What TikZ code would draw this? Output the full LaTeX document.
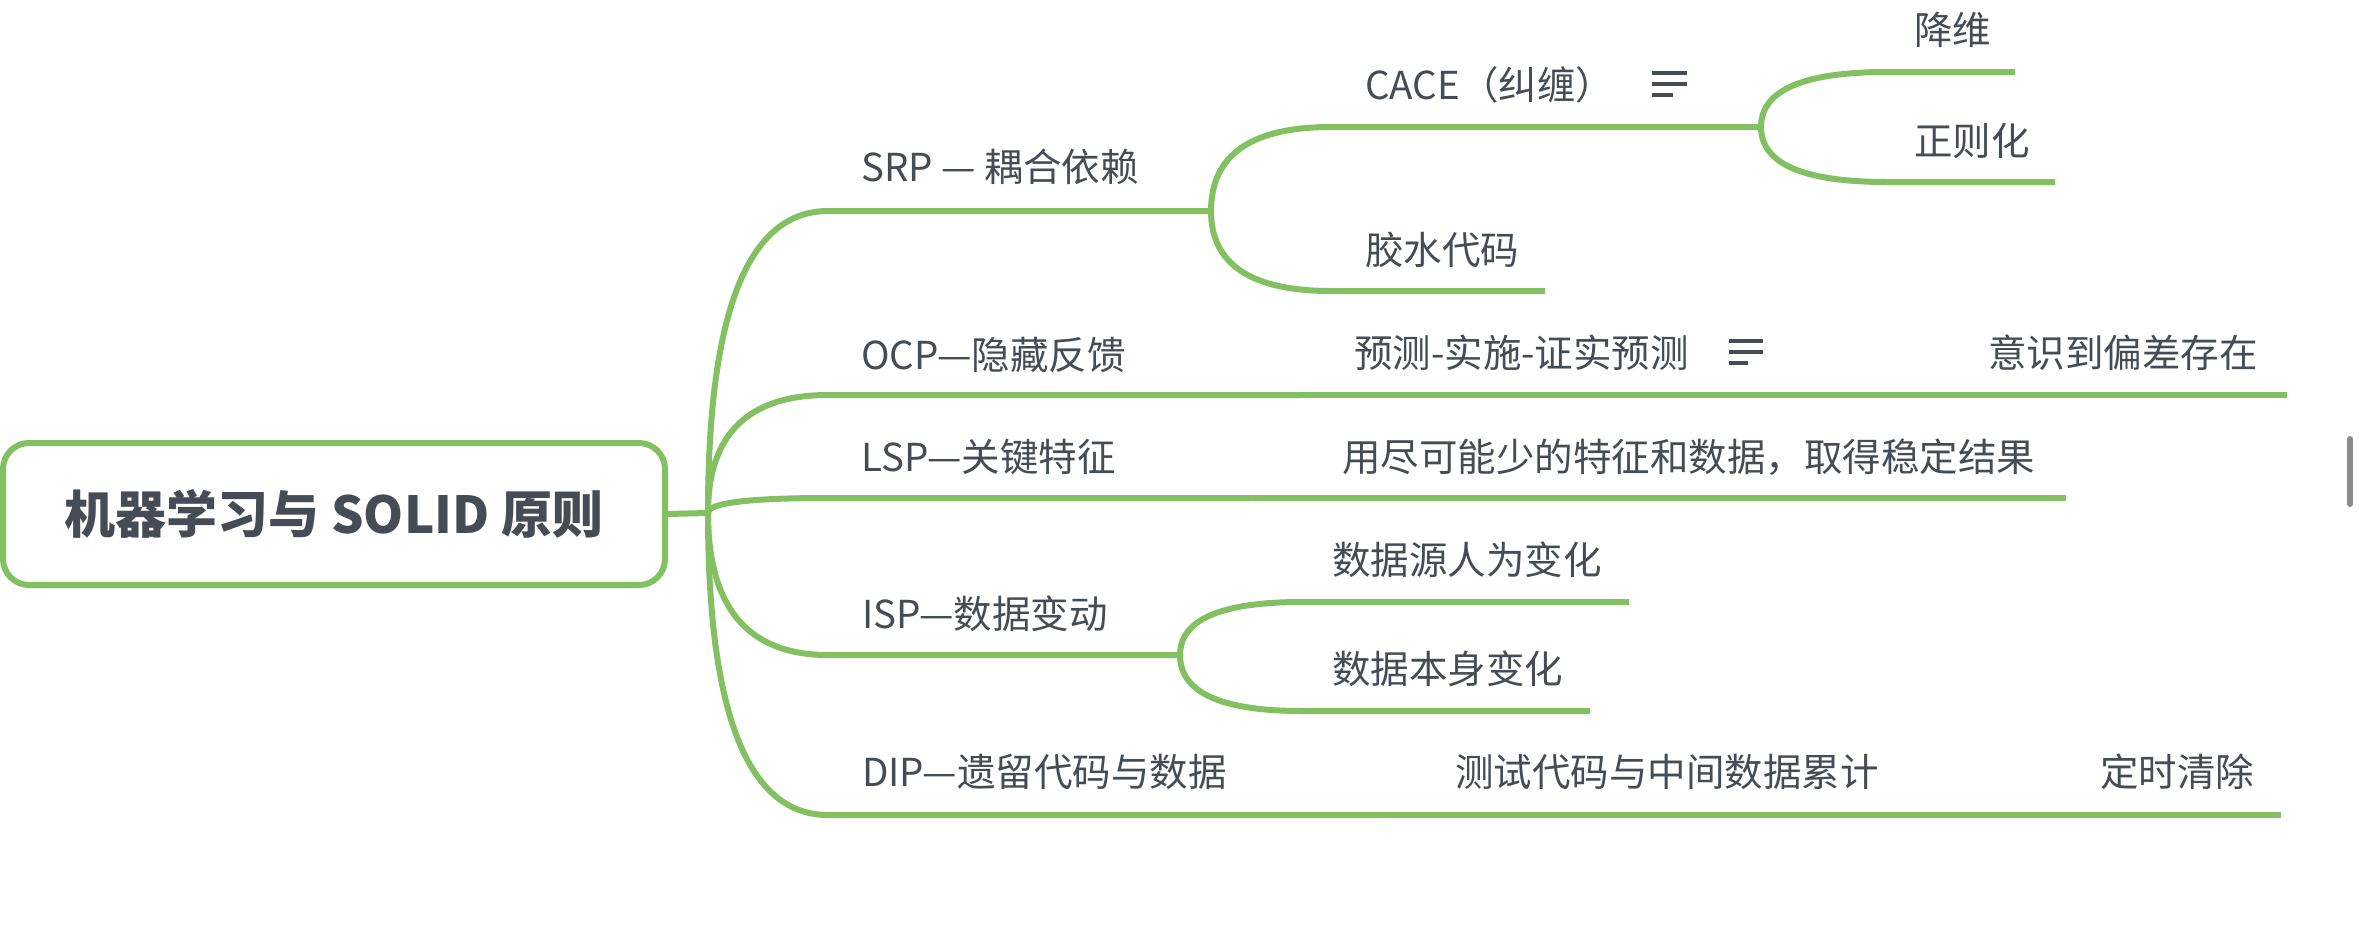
\documentclass[tikz,border=0pt]{standalone}
\usepackage{fontspec}
\setmainfont{Noto Sans CJK SC}
\usetikzlibrary{calc}
\definecolor{lgreen}{HTML}{82C062}
\definecolor{txtgray}{HTML}{464C55}
\definecolor{barGray}{HTML}{8C8C8C}
\newcommand{\mmbranch}[3]{\draw[branch] (#1) .. controls ($(#1)!2/3!(#1|-#2)$) and ($(#2)!2/3!(#1|-#2)$) .. (#2) -- (#3);}
\begin{document}
\begin{tikzpicture}[x=1pt,y=-1pt,
  branch/.style={draw=lgreen,line width=6pt},
  lbl/.style={anchor=west,inner sep=0pt,text=txtgray,font=\fontsize{38.5}{40}\selectfont},
  icon/.style={draw=txtgray,line width=3.2pt}]
\useasboundingbox (0,0) rectangle (2359,926);
\fill[white] (0,0) rectangle (2359,926);

\node[draw=lgreen, line width=6pt, rounded corners=26pt, minimum width=662pt, minimum height=142pt, inner sep=0pt, fill=white, text=txtgray, font=\fontsize{51}{54}\selectfont\bfseries] (root) at (334,514) {机器学习与 SOLID 原则};

\coordinate (J0) at (708,513);
\coordinate (s0) at (828,211); \coordinate (s1) at (1211,211);
\coordinate (c0) at (1331,127); \coordinate (c1) at (1761,127);
\coordinate (d0) at (1887,72); \coordinate (d1) at (2015,72);
\coordinate (z0) at (1887,182); \coordinate (z1) at (2055,182);
\coordinate (g0) at (1331,291); \coordinate (g1) at (1545,291);
\coordinate (o0) at (828,395); \coordinate (o1) at (1300,395);
\coordinate (o2) at (1800,395); \coordinate (o3) at (2287,395);
\coordinate (l0) at (828,498); \coordinate (l1) at (1250,498); \coordinate (l2) at (2066,498);
\coordinate (i0) at (828,655); \coordinate (i1) at (1180,655);
\coordinate (u0) at (1302,602); \coordinate (u1) at (1629,602);
\coordinate (v0) at (1302,711); \coordinate (v1) at (1590,711);
\coordinate (p0) at (828,815); \coordinate (p1) at (1380,815);
\coordinate (p2) at (1960,815); \coordinate (p3) at (2281,815);

\draw[branch] (root.east) -- (J0);
\mmbranch{J0}{s0}{s1}
\mmbranch{s1}{c0}{c1}
\mmbranch{s1}{g0}{g1}
\mmbranch{c1}{d0}{d1}
\mmbranch{c1}{z0}{z1}
\mmbranch{J0}{o0}{o1}
\draw[branch] (o1) -- (o2) -- (o3);
\mmbranch{J0}{l0}{l1}
\draw[branch] (l1) -- (l2);
\mmbranch{J0}{i0}{i1}
\mmbranch{i1}{u0}{u1}
\mmbranch{i1}{v0}{v1}
\mmbranch{J0}{p0}{p1}
\draw[branch] (p1) -- (p2) -- (p3);

\node[lbl] (srp) at (861,167) {SRP — 耦合依赖};
\node[lbl] (ocp) at (861,355) {OCP—隐藏反馈};
\node[lbl] (lsp) at (861,457) {LSP—关键特征};
\node[lbl] (isp) at (862,614) {ISP—数据变动};
\node[lbl] (dip) at (862,772) {DIP—遗留代码与数据};
\node[lbl] (cace) at (1365,85) {CACE（纠缠）};
\node[lbl] (glue) at (1365,250) {胶水代码};
\node[lbl] (jw) at (1914,30) {降维};
\node[lbl] (zzh) at (1914,141) {正则化};
\node[lbl] (yc) at (1354,353) {预测-实施-证实预测};
\node[lbl] (ys) at (1988,353) {意识到偏差存在};
\node[lbl] (yj) at (1342,457) {用尽可能少的特征和数据，取得稳定结果};
\node[lbl] (sy) at (1332,560) {数据源人为变化};
\node[lbl] (bs) at (1332,669) {数据本身变化};
\node[lbl] (cs) at (1455,772) {测试代码与中间数据累计};
\node[lbl] (ds) at (2100,772) {定时清除};

\draw[icon] (1652,73) -- (1687,73) (1652,84) -- (1687,84) (1652,95) -- (1673,95);
\draw[icon] (1729,341) -- (1763,341) (1729,352) -- (1763,352) (1729,363) -- (1748,363);

\draw[line width=6pt, line cap=round, draw=barGray] (2350,439) -- (2350,504);
\end{tikzpicture}
\end{document}
